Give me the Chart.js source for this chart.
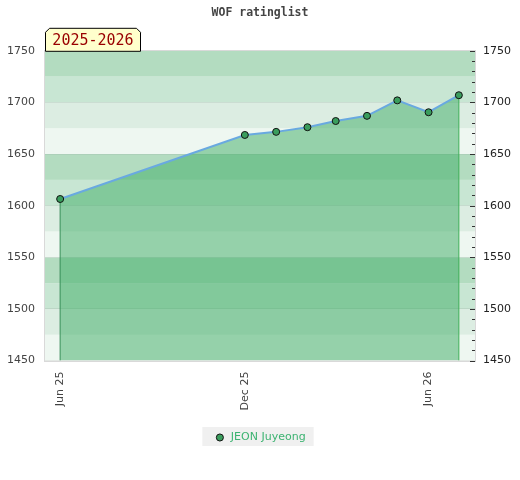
<!DOCTYPE html>
<html><head><meta charset="utf-8">
<script src="https://cdn.jsdelivr.net/npm/chart.js@4.4.1/dist/chart.umd.min.js"></script>
<style>html,body{margin:0;padding:0;background:#fff}canvas{display:block}</style>
</head><body>
<canvas id="c" width="520" height="480"></canvas>
<script>
const chartTitle = 'WOF ratinglist';
const seasonLabel = '2025-2026';
const playerName = 'JEON Juyeong';
const ratingDates = ['2025-06-01','2025-12-01','2026-01-01','2026-02-01','2026-03-01','2026-04-01','2026-05-01','2026-06-01','2026-07-01'];
const ratings = [1606.5,1668.5,1671.5,1676,1682,1687,1702,1690.5,1707];
const xTickDates = ['2025-06-01','2025-12-01','2026-06-01'];
const xTickLabels = ['Jun 25','Dec 25','Jun 26'];
const xRangeDates = ['2025-05-17','2026-07-17'];
const yMin = 1450, yMax = 1750, yLabelStep = 50, yMinorStep = 10, bandStep = 25;

// styles
const bandColors = ['#c8e6d3','#b3dcc0','#eef7f1','#dcede2'];
const baseTime = Date.parse(xTickDates[0]);
const day = d => (Date.parse(d) - baseTime) / 86400000;

const mainPoints = ratingDates.map((d, i) => ({x: day(d), y: ratings[i]}));
const firstDrop = [{x: day(ratingDates[0]), y: yMin}, {x: day(ratingDates[0]), y: ratings[0]}];
const lastIdx = ratings.length - 1;
const lastDrop = [{x: day(ratingDates[lastIdx]), y: yMin}, {x: day(ratingDates[lastIdx]), y: ratings[lastIdx]}];

const decor = {
  id: 'decor',
  beforeDraw(chart) {
    const {ctx, chartArea: a, scales} = chart;
    const y = scales.y;
    ctx.save();
    for (let v = yMin; v < yMax; v += bandStep) {
      const idx = Math.floor((((v % 100) + 100) % 100) / bandStep);
      ctx.fillStyle = bandColors[idx];
      const top = y.getPixelForValue(v + bandStep), bot = y.getPixelForValue(v);
      ctx.fillRect(a.left, top, a.right - a.left, bot - top);
    }
    const lg = chart.legend;
    if (lg && lg.legendHitBoxes && lg.legendHitBoxes.length) {
      const h = lg.legendHitBoxes[0];
      ctx.fillStyle = '#f0f0f0';
      ctx.fillRect(h.left - 12, h.top - 5, h.width + 20, h.height + 8);
    }
    ctx.restore();
  },
  afterDatasetsDraw(chart) {
    const {ctx, chartArea: a, scales} = chart;
    ctx.save();
    ctx.strokeStyle = '#d9d9d9';
    ctx.lineWidth = 1;
    ctx.strokeRect(Math.round(a.left) - 0.5, Math.round(a.top) - 0.5, Math.round(a.right - a.left) + 1, Math.round(a.bottom - a.top) + 1);
    const y2 = scales.y2;
    ctx.strokeStyle = '#333';
    y2.ticks.forEach(t => {
      const py = Math.round(y2.getPixelForValue(t.value)) + 0.5;
      const len = (t.value % yLabelStep === 0) ? 5 : 3;
      ctx.beginPath();
      ctx.moveTo(a.right - len, py);
      ctx.lineTo(a.right, py);
      ctx.stroke();
    });
    ctx.restore();
  },
  afterDraw(chart) {
    const {ctx, chartArea: a} = chart;
    ctx.save();
    const x0 = a.left + 0.5, x1 = a.left + 95.5, y0 = a.top - 22.5, y1 = a.top + 0.5, cut = 4;
    ctx.beginPath();
    ctx.moveTo(x0, y1);
    ctx.lineTo(x0, y0 + cut);
    ctx.lineTo(x0 + cut, y0);
    ctx.lineTo(x1 - cut, y0);
    ctx.lineTo(x1, y0 + cut);
    ctx.lineTo(x1, y1);
    ctx.closePath();
    ctx.fillStyle = '#ffffcc';
    ctx.fill();
    ctx.strokeStyle = '#000';
    ctx.lineWidth = 1;
    ctx.stroke();
    ctx.fillStyle = '#990000';
    ctx.font = '15px "DejaVu Sans Mono"';
    ctx.textAlign = 'center';
    ctx.textBaseline = 'middle';
    ctx.fillText(seasonLabel, (x0 + x1) / 2, (y0 + y1) / 2 + 1);
    ctx.restore();
  }
};

new Chart(document.getElementById('c'), {
  type: 'line',
  data: {
    datasets: [
      {
        label: playerName,
        data: mainPoints,
        borderColor: '#69a9e0',
        borderWidth: 2,
        backgroundColor: 'rgba(60,172,100,0.5)',
        fill: 'start',
        tension: 0,
        pointRadius: 3.5,
        pointBackgroundColor: '#3a9d5d',
        pointBorderColor: '#111',
        pointBorderWidth: 1,
        yAxisID: 'y'
      },
      {label: 'd1', data: firstDrop, borderColor: '#2e8050', borderWidth: 1, pointRadius: 0, fill: false, yAxisID: 'y'},
      {label: 'd2', data: lastDrop, borderColor: '#3cb050', borderWidth: 1, pointRadius: 0, fill: false, yAxisID: 'y'}
    ]
  },
  options: {
    responsive: false,
    devicePixelRatio: 1,
    animation: false,
    layout: {padding: {left: 0, right: 0, top: 0, bottom: 27}},
    scales: {
      x: {
        type: 'linear',
        position: 'bottom',
        min: day(xRangeDates[0]),
        max: day(xRangeDates[1]),
        afterBuildTicks: s => { s.ticks = xTickDates.map(d => ({value: day(d)})); },
        afterFit: s => { s.height = 61.4; },
        grid: {display: false, drawTicks: false},
        border: {display: false},
        ticks: {
          autoSkip: false, minRotation: 90, maxRotation: 90, padding: 11,
          color: '#444', font: {family: 'DejaVu Sans', size: 11},
          callback: (v, i) => xTickLabels[i]
        }
      },
      y: {
        position: 'left',
        min: yMin, max: yMax,
        afterFit: s => { s.width = 45; },
        grid: {color: 'rgba(0,0,0,0.07)', drawTicks: false},
        border: {display: false},
        ticks: {stepSize: yLabelStep, padding: 10, color: '#444', font: {family: 'DejaVu Sans', size: 11},
          callback: v => String(v)}
      },
      y2: {
        position: 'right',
        min: yMin, max: yMax,
        afterFit: s => { s.width = 45; },
        grid: {display: false, drawTicks: false},
        border: {display: false},
        ticks: {
          stepSize: yMinorStep, autoSkip: false, padding: 8, color: '#222',
          font: {family: 'DejaVu Sans', size: 11},
          callback: v => (v % yLabelStep === 0 ? String(v) : '')
        }
      }
    },
    plugins: {
      title: {
        display: true, text: chartTitle, color: '#444',
        font: {family: 'DejaVu Sans Mono', size: 11.5, weight: 'bold'},
        padding: {top: 6, bottom: 31}
      },
      legend: {
        position: 'bottom',
        labels: {
          usePointStyle: true, pointStyle: 'circle', boxWidth: 11, boxHeight: 5,
          color: '#3cb371', font: {family: 'DejaVu Sans', size: 11},
          filter: item => item.datasetIndex === 0
        }
      },
      tooltip: {enabled: false}
    }
  },
  plugins: [decor]
});
</script>
</body></html>
